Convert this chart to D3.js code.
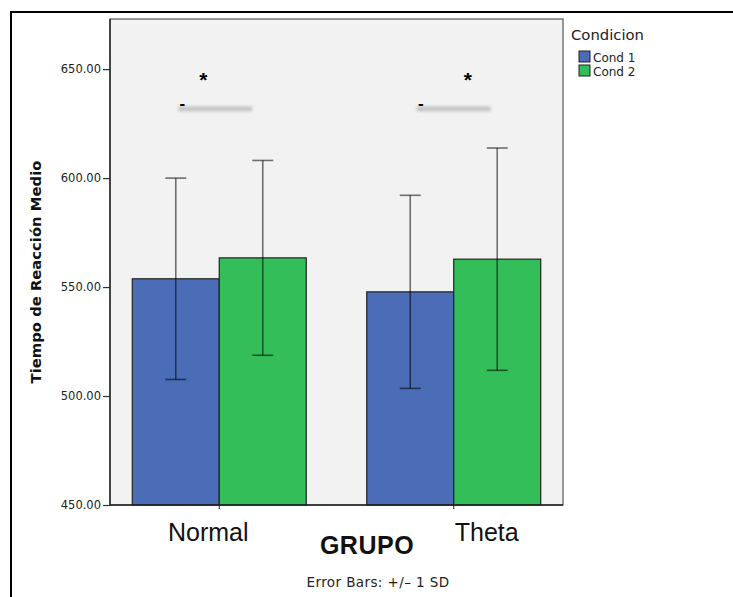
<!DOCTYPE html>
<html>
<head>
<meta charset="utf-8">
<script src="https://cdn.jsdelivr.net/npm/d3@7"></script>
<style>
  body { margin: 0; background: #fff; }
  svg { display: block; }
</style>
</head>
<body>
<script>
  // data
  var groups = ["Normal", "Theta"];
  var conds = ["Cond 1", "Cond 2"];
  var meanCond1 = [553.8, 547.8];
  var meanCond2 = [563.4, 562.8];
  var sdCond1 = [46.2, 44.3];
  var sdCond2 = [44.7, 51.0];
  var yTicks = [450, 500, 550, 600, 650];
  var colors = ["#4b6cb7", "#33be5a"];
  // significance marks above each group
  var sigMark = ["*", "*"];
  var sigLevel = [646, 632];

  var rows = [];
  groups.forEach(function(g, i) {
    rows.push({ group: g, cond: conds[0], mean: meanCond1[i], sd: sdCond1[i] });
    rows.push({ group: g, cond: conds[1], mean: meanCond2[i], sd: sdCond2[i] });
  });

  var W = 733, H = 597;
  var margin = { top: 19, right: 170, bottom: 92, left: 110 };
  var width = W - margin.left - margin.right,
    height = H - margin.top - margin.bottom;

  var svgRoot = d3.select("body").append("svg")
    .attr("width", W)
    .attr("height", H);

  var defs = svgRoot.append("defs");
  defs.append("filter")
    .attr("id", "blur")
    .attr("x", "-20%").attr("y", "-200%")
    .attr("width", "140%").attr("height", "500%")
    .append("feGaussianBlur")
    .attr("stdDeviation", 1.4);

  // outer frame (top and left)
  svgRoot.append("line")
    .attr("x1", 11).attr("x2", W).attr("y1", 12).attr("y2", 12)
    .attr("stroke", "#000").attr("stroke-width", 2);
  svgRoot.append("line")
    .attr("x1", 11).attr("x2", 11).attr("y1", 11).attr("y2", H)
    .attr("stroke", "#000").attr("stroke-width", 2);

  var svg = svgRoot.append("g")
    .attr("transform", "translate(" + margin.left + "," + margin.top + ")");

  var x0 = d3.scaleBand()
    .domain(groups)
    .range([0, width])
    .paddingInner(0.258)
    .paddingOuter(0.095);

  var x1 = d3.scaleBand()
    .domain(conds)
    .range([0, x0.bandwidth()]);

  var y = d3.scaleLinear()
    .domain([450, 673])
    .range([height, 0]);

  var color = d3.scaleOrdinal().domain(conds).range(colors);

  // plot background
  svg.append("rect")
    .attr("width", width)
    .attr("height", height)
    .attr("fill", "#f2f2f2")
    .attr("stroke", "#555")
    .attr("stroke-width", 1.2);

  // bars
  svg.selectAll(".bar")
    .data(rows)
    .enter()
    .append("rect")
    .attr("class", "bar")
    .attr("x", function(d) { return x0(d.group) + x1(d.cond); })
    .attr("y", function(d) { return y(d.mean); })
    .attr("width", x1.bandwidth())
    .attr("height", function(d) { return height - y(d.mean); })
    .attr("fill", function(d) { return color(d.cond); })
    .attr("stroke", "#222")
    .attr("stroke-width", 1.2);

  // error bars +/- 1 SD
  var err = svg.selectAll(".err")
    .data(rows)
    .enter()
    .append("g")
    .attr("class", "err")
    .attr("stroke", "#000")
    .attr("stroke-opacity", 0.55)
    .attr("stroke-width", 1.6);

  var cx = function(d) { return x0(d.group) + x1(d.cond) + x1.bandwidth() / 2; };
  var capW = 10.5;

  err.append("line")
    .attr("x1", cx).attr("x2", cx)
    .attr("y1", function(d) { return y(d.mean + d.sd); })
    .attr("y2", function(d) { return y(d.mean - d.sd); });
  err.append("line")
    .attr("x1", function(d) { return cx(d) - capW; })
    .attr("x2", function(d) { return cx(d) + capW; })
    .attr("y1", function(d) { return y(d.mean + d.sd); })
    .attr("y2", function(d) { return y(d.mean + d.sd); });
  err.append("line")
    .attr("x1", function(d) { return cx(d) - capW; })
    .attr("x2", function(d) { return cx(d) + capW; })
    .attr("y1", function(d) { return y(d.mean - d.sd); })
    .attr("y2", function(d) { return y(d.mean - d.sd); });

  // significance marks
  var gc = function(g) { return x0(g) + x0.bandwidth() / 2; };
  var starDx = [-16, 14];
  var lineDx = [-41, -37];
  groups.forEach(function(g, i) {
    svg.append("rect")
      .attr("x", gc(g) + lineDx[i])
      .attr("y", y(sigLevel[1]) - 2)
      .attr("width", 74)
      .attr("height", 5)
      .attr("fill", "#c4c4c4")
      .attr("filter", "url(#blur)");
    svg.append("text")
      .attr("x", gc(g) + lineDx[i] + 4)
      .attr("y", y(sigLevel[1]) + 0.5)
      .attr("text-anchor", "middle")
      .style("font-family", "Liberation Sans, Arial, sans-serif")
      .style("font-weight", "bold")
      .style("font-size", "17px")
      .text("-");
    svg.append("text")
      .attr("x", gc(g) + starDx[i])
      .attr("y", y(sigLevel[0]) + 9)
      .attr("text-anchor", "middle")
      .style("font-family", "Liberation Sans, Arial, sans-serif")
      .style("font-weight", "bold")
      .style("font-size", "21px")
      .text(sigMark[i]);
  });

  // y axis
  var yAxis = d3.axisLeft(y)
    .tickValues(yTicks)
    .tickFormat(d3.format(".2f"))
    .tickSize(7)
    .tickPadding(2);

  var gy = svg.append("g")
    .attr("class", "y axis")
    .call(yAxis);
  gy.select(".domain").remove();
  gy.selectAll(".tick line").attr("stroke", "#333").attr("stroke-width", 1.2);
  gy.selectAll(".tick text")
    .attr("fill", "#222")
    .style("font-family", "DejaVu Sans, sans-serif")
    .style("font-size", "11.5px");

  // axis lines on the left and bottom edges of the plot
  svg.append("line")
    .attr("x1", 0).attr("x2", 0).attr("y1", 0).attr("y2", height)
    .attr("stroke", "#222").attr("stroke-width", 1.4);
  svg.append("line")
    .attr("x1", 0).attr("x2", width).attr("y1", height).attr("y2", height)
    .attr("stroke", "#222").attr("stroke-width", 1.4);
  // small tick at group centre on bottom
  groups.forEach(function(g) {
    svg.append("line")
      .attr("x1", gc(g)).attr("x2", gc(g))
      .attr("y1", height).attr("y2", height + 4)
      .attr("stroke", "#222");
  });

  svg.append("text")
    .attr("transform", "rotate(-90)")
    .attr("x", -(272 - margin.top))
    .attr("y", 41 - margin.left)
    .style("text-anchor", "middle")
    .style("font-family", "DejaVu Sans, sans-serif")
    .style("font-weight", "bold")
    .style("font-size", "14.8px")
    .attr("fill", "#111")
    .text("Tiempo de Reacción Medio");

  // group labels
  var labelDx = [-11, 33];
  groups.forEach(function(g, i) {
    svg.append("text")
      .attr("x", gc(g) + labelDx[i])
      .attr("y", height + 36)
      .attr("text-anchor", "middle")
      .style("font-family", "Liberation Sans, Arial, sans-serif")
      .style("font-size", "25px")
      .attr("fill", "#111")
      .text(g);
  });

  svg.append("text")
    .attr("x", 367 - margin.left)
    .attr("y", height + 49)
    .attr("text-anchor", "middle")
    .style("font-family", "Liberation Sans, Arial, sans-serif")
    .style("font-weight", "bold")
    .style("font-size", "25px")
    .style("letter-spacing", "0.5px")
    .attr("fill", "#111")
    .text("GRUPO");

  svg.append("text")
    .attr("x", 378 - margin.left)
    .attr("y", height + 82)
    .attr("text-anchor", "middle")
    .style("font-family", "DejaVu Sans, sans-serif")
    .style("font-size", "13.5px")
    .style("letter-spacing", "0.4px")
    .attr("fill", "#222")
    .text("Error Bars: +/\u2013 1 SD");

  // legend
  var legend = svgRoot.append("g")
    .attr("transform", "translate(571,0)");
  legend.append("text")
    .attr("x", 0)
    .attr("y", 40)
    .style("font-family", "DejaVu Sans, sans-serif")
    .style("font-size", "14.8px")
    .attr("fill", "#222")
    .text("Condicion");

  var li = legend.selectAll(".li")
    .data(conds)
    .enter()
    .append("g")
    .attr("class", "li")
    .attr("transform", function(d, i) { return "translate(8," + (51 + i * 14) + ")"; });
  li.append("rect")
    .attr("width", 11)
    .attr("height", 11)
    .attr("fill", function(d) { return color(d); })
    .attr("stroke", "#222")
    .attr("stroke-width", 1);
  li.append("text")
    .attr("x", 14)
    .attr("y", 10.5)
    .style("font-family", "DejaVu Sans, sans-serif")
    .style("font-size", "12px")
    .attr("fill", "#222")
    .text(function(d) { return d; });
</script>
</body>
</html>
